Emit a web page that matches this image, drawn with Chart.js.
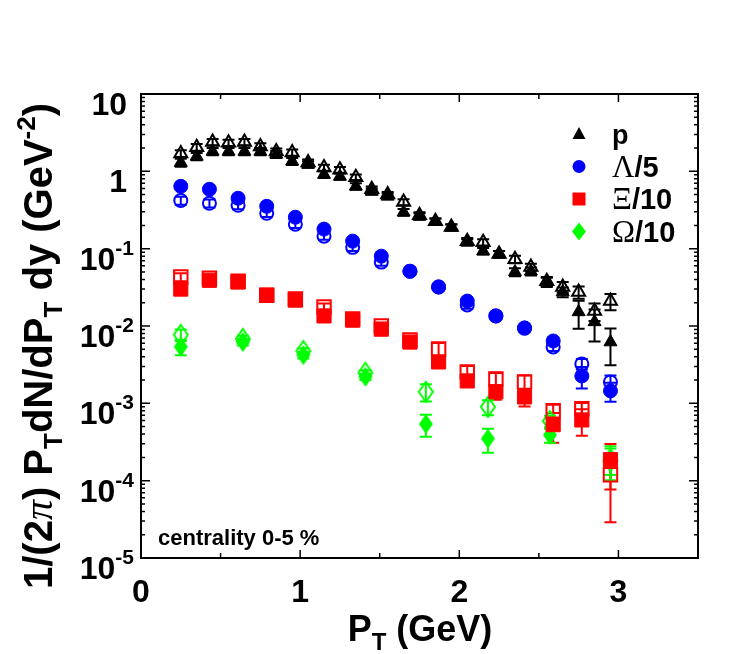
<!DOCTYPE html>
<html>
<head>
<meta charset="utf-8">
<script src="https://cdn.jsdelivr.net/npm/chart.js@4.4.1/dist/chart.umd.min.js"></script>
<style>
  body { margin: 0; background: #fff; }
  canvas { display: block; }
</style>
</head>
<body>
<canvas id="spectraChart" width="747" height="654"></canvas>
<script>
// protons (closed and open triangles)
var pX = [0.25, 0.35, 0.45, 0.55, 0.65, 0.75, 0.85, 0.95, 1.05, 1.15, 1.25, 1.35, 1.45, 1.55,
          1.65, 1.75, 1.85, 1.95, 2.05, 2.15, 2.25, 2.35, 2.45, 2.55, 2.65, 2.75, 2.85, 2.95];
var pFilled = [1.3, 1.56, 1.81, 1.81, 1.81, 1.81, 1.66, 1.35, 1.23, 0.91, 0.86, 0.64, 0.55, 0.475,
               0.296, 0.262, 0.226, 0.189, 0.121, 0.093, 0.085, 0.050, 0.051, 0.037, 0.0275, 0.0152, 0.0113, 0.0062];
var pOpen = [1.7, 2.05, 2.4, 2.35, 2.4, 2.1, 1.8, 1.75, 1.3, 1.12, 1.05, 0.84, 0.585, 0.5,
             0.40, 0.27, 0.226, 0.19, 0.125, 0.121, 0.085, 0.073, 0.058, 0.038, 0.032, 0.0275, 0.0156, 0.021];
var pErrFilled = [0.15, 0.17, 0.19, 0.19, 0.19, 0.19, 0.17, 0.14, 0.12, 0.09, 0.08, 0.06, 0.05, 0.04,
                  0.03, 0.025, 0.02, 0.017, 0.011, 0.009, 0.008, 0.006, 0.006, 0.005, 0.004, 0.006, 0.005, 0.0031];
var pErrOpen = [0.17, 0.2, 0.22, 0.22, 0.22, 0.2, 0.17, 0.16, 0.12, 0.1, 0.09, 0.07, 0.05, 0.04,
                0.035, 0.025, 0.02, 0.017, 0.012, 0.011, 0.008, 0.008, 0.006, 0.005, 0.005, 0.005, 0.004, 0.005];

// lambda / 5 (circles)
var lamX = [0.25, 0.43, 0.61, 0.79, 0.97, 1.15, 1.33, 1.51, 1.69, 1.87, 2.05, 2.23, 2.41, 2.59, 2.77, 2.95];
var lamFilled = [0.64, 0.586, 0.449, 0.353, 0.255, 0.179, 0.125, 0.080, 0.051, 0.032, 0.021, 0.0135, 0.0094, 0.0064, 0.00226, 0.00145];
var lamOpen = [0.42, 0.386, 0.364, 0.287, 0.207, 0.145, 0.104, 0.067, 0.051, 0.032, 0.0187, 0.0135, 0.0094, 0.00536, 0.00323, 0.00189];
var lamErrFilled = [0.03, 0.03, 0.02, 0.02, 0.012, 0.009, 0.006, 0.004, 0.003, 0.002, 0.0012, 0.0008, 0.0006, 0.0007, 0.0007, 0.0004];
var lamErrOpen = [0.05, 0.045, 0.04, 0.03, 0.022, 0.015, 0.011, 0.007, 0.005, 0.003, 0.002, 0.0013, 0.001, 0.0006, 0.0005, 0.0004];

// xi / 10 (squares)
var xiX = [0.25, 0.43, 0.61, 0.79, 0.97, 1.15, 1.33, 1.51, 1.69, 1.87, 2.05, 2.23, 2.41, 2.59, 2.77, 2.95];
var xiFilled = [0.030, 0.039, 0.037, 0.025, 0.0216, 0.0135, 0.0119, 0.0091, 0.0062, 0.00343, 0.00195, 0.00141, 0.00121, 0.00053, 0.00061, 0.000187];
var xiOpen = [0.043, 0.0416, 0.038, 0.025, 0.0223, 0.0176, 0.0123, 0.010, 0.0066, 0.00505, 0.00255, 0.00207, 0.00189, 0.0008, 0.00085, 0.000119];
var xiErrFilled = [0.003, 0.003, 0.003, 0.002, 0.0015, 0.001, 0.0008, 0.0006, 0.0005, 0.0004, 0.0003, 0.0003, 0.0003, 0.00022, 0.00023, 0.00011];
var xiErrOpen = [0.005, 0.004, 0.004, 0.002, 0.002, 0.002, 0.0012, 0.001, 0.0008, 0.001, 0.0005, 0.0004, 0.0004, 0.00016, 0.00016, 0.00009];

// omega / 10 (diamonds)
var omX = [0.25, 0.64, 1.02, 1.41, 1.79, 2.18, 2.57, 2.95];
var omFilled = [0.0054, 0.0062, 0.0042, 0.0022, 0.00054, 0.00035, 0.00039, 0.000198];
var omOpen = [0.0077, 0.0068, 0.00475, 0.00248, 0.00141, 0.0009, 0.00059, 0.000181];
var omErrFilled = [0.0012, 0.0006, 0.0004, 0.0002, 0.00017, 0.00012, 0.00008, 0.00008];
var omErrOpen = [0.0013, 0.0007, 0.0004, 0.0002, 0.00035, 0.0002, 0.0001, 0.00008];

// axes
var xTicks = [0, 0.5, 1, 1.5, 2, 2.5, 3, 3.5];
var xLabels = [0, 1, 2, 3];
var yDecades = [-5, -4, -3, -2, -1, 0, 1];

var SANS = '"Liberation Sans", Arial, sans-serif';
var SERIF = '"Liberation Serif", "DejaVu Serif", serif';

function toPoints(xs, ys) {
    return xs.map(function (x, i) { return { x: x, y: ys[i] }; });
}

// diamonds are taller than wide, so draw them on a small canvas
function diamondImage(color, filled) {
    var c = document.createElement('canvas');
    c.width = 18; c.height = 24;
    var g = c.getContext('2d');
    g.beginPath();
    g.moveTo(9, 2); g.lineTo(16, 12); g.lineTo(9, 22); g.lineTo(2, 12); g.closePath();
    if (filled) { g.fillStyle = color; g.fill(); }
    else { g.strokeStyle = color; g.lineWidth = 2; g.stroke(); }
    return c;
}

function series(label, xs, ys, errs, color, style, filled, radius) {
    return {
        label: label,
        data: toPoints(xs, ys),
        errors: errs,
        errColor: color,
        pointStyle: style,
        pointRadius: radius,
        pointBackgroundColor: filled ? color : 'rgba(0,0,0,0)',
        pointBorderColor: color,
        pointBorderWidth: filled ? 1 : 2,
        showLine: false
    };
}

// draws a run of text pieces with their own fonts and vertical offsets
function richWidth(ctx, parts) {
    var w = 0;
    parts.forEach(function (p) { ctx.font = p.f; w += ctx.measureText(p.t).width; });
    return w;
}
function drawRich(ctx, parts, x, y) {
    parts.forEach(function (p) {
        ctx.font = p.f;
        ctx.fillText(p.t, x, y + (p.dy || 0));
        x += ctx.measureText(p.t).width;
    });
}

var TICK = 'bold 32px ' + SANS;
var EXP = 'bold 21px ' + SANS;

var errorBars = {
    id: 'errorBars',
    beforeDatasetsDraw: function (chart) {
        var ctx = chart.ctx, ys = chart.scales.y, a = chart.chartArea;
        ctx.save();
        ctx.beginPath();
        ctx.rect(a.left, a.top, a.right - a.left, a.bottom - a.top);
        ctx.clip();
        chart.data.datasets.forEach(function (ds, i) {
            var meta = chart.getDatasetMeta(i);
            ctx.strokeStyle = ds.errColor;
            ctx.lineWidth = 2;
            meta.data.forEach(function (pt, j) {
                var v = ds.data[j].y, e = ds.errors[j];
                var top = ys.getPixelForValue(v + e);
                var bot = ys.getPixelForValue(Math.max(v - e, 1e-7));
                ctx.beginPath();
                ctx.moveTo(pt.x, top); ctx.lineTo(pt.x, bot);
                ctx.moveTo(pt.x - 6, top); ctx.lineTo(pt.x + 6, top);
                ctx.moveTo(pt.x - 6, bot); ctx.lineTo(pt.x + 6, bot);
                ctx.stroke();
            });
        });
        ctx.restore();
    }
};

var frameAndText = {
    id: 'frameAndText',
    afterDraw: function (chart) {
        var ctx = chart.ctx, a = chart.chartArea;
        var xs = chart.scales.x, ys = chart.scales.y;
        ctx.save();
        ctx.strokeStyle = '#000';
        ctx.fillStyle = '#000';
        ctx.lineWidth = 2;
        ctx.strokeRect(a.left, a.top, a.right - a.left, a.bottom - a.top);

        // inward ticks
        ctx.lineWidth = 1.5;
        ctx.beginPath();
        xTicks.forEach(function (v) {
            var px = xs.getPixelForValue(v);
            var len = (v % 1 === 0) ? 8 : 5;
            ctx.moveTo(px, a.bottom); ctx.lineTo(px, a.bottom - len);
            ctx.moveTo(px, a.top); ctx.lineTo(px, a.top + len);
        });
        yDecades.forEach(function (k) {
            var py = ys.getPixelForValue(Math.pow(10, k));
            ctx.moveTo(a.left, py); ctx.lineTo(a.left + 9, py);
            ctx.moveTo(a.right, py); ctx.lineTo(a.right - 9, py);
            if (k < 1) {
                for (var m = 2; m <= 9; m++) {
                    var pm = ys.getPixelForValue(m * Math.pow(10, k));
                    ctx.moveTo(a.left, pm); ctx.lineTo(a.left + 4, pm);
                    ctx.moveTo(a.right, pm); ctx.lineTo(a.right - 4, pm);
                }
            }
        });
        ctx.stroke();

        // x tick labels
        ctx.textAlign = 'center';
        ctx.textBaseline = 'alphabetic';
        ctx.font = TICK;
        xLabels.forEach(function (v) {
            ctx.fillText(String(v), xs.getPixelForValue(v), 602);
        });

        // y tick labels
        ctx.textAlign = 'left';
        yDecades.forEach(function (k) {
            var py = ys.getPixelForValue(Math.pow(10, k)) + 21;
            var parts;
            if (k === 0) parts = [{ t: '1', f: TICK }];
            else if (k === 1) parts = [{ t: '10', f: TICK }];
            else parts = [{ t: '10', f: TICK }, { t: String(k), f: EXP, dy: -15 }];
            var w = richWidth(ctx, parts);
            var right = (k === 0 || k === 1) ? 127 : 134;
            drawRich(ctx, parts, right - w, py);
        });

        // x title
        var XT = 'bold 36px ' + SANS, XS = 'bold 24px ' + SANS;
        var xt = [{ t: 'P', f: XT }, { t: 'T', f: XS, dy: 9 }, { t: ' (GeV)', f: XT }];
        drawRich(ctx, xt, 420 - richWidth(ctx, xt) / 2, 641);

        // y title, rotated
        var YT = 'bold 40px ' + SANS, YS = 'bold 26px ' + SANS;
        var yt = [
            { t: '1/(2', f: YT },
            { t: 'π', f: 'italic 40px ' + SERIF },
            { t: ') P', f: YT },
            { t: 'T', f: YS, dy: 10 },
            { t: 'dN/dP', f: YT },
            { t: 'T', f: YS, dy: 10 },
            { t: ' dy (GeV', f: YT },
            { t: '-2', f: YS, dy: -17 },
            { t: ')', f: YT }
        ];
        ctx.save();
        ctx.translate(52, 346);
        ctx.rotate(-Math.PI / 2);
        drawRich(ctx, yt, -richWidth(ctx, yt) / 2, 0);
        ctx.restore();

        // annotation
        ctx.font = 'bold 22px ' + SANS;
        ctx.fillText('centrality 0-5 %', 158, 545);

        // legend
        var rows = [
            { c: '#000000', s: 'tri', parts: [{ t: 'p', f: 'bold 27px ' + SANS }] },
            { c: '#0000ff', s: 'circ', parts: [{ t: 'Λ', f: '31px ' + SERIF }, { t: '/5', f: 'bold 29px ' + SANS }] },
            { c: '#ff0000', s: 'sq', parts: [{ t: 'Ξ', f: '31px ' + SERIF }, { t: '/10', f: 'bold 29px ' + SANS }] },
            { c: '#00ff00', s: 'dia', parts: [{ t: 'Ω', f: '31px ' + SERIF }, { t: '/10', f: 'bold 29px ' + SANS }] }
        ];
        rows.forEach(function (r, i) {
            var cy = 134 + i * 32.5, cx = 579;
            ctx.fillStyle = r.c;
            ctx.beginPath();
            if (r.s === 'tri') {
                ctx.moveTo(cx, cy - 7); ctx.lineTo(cx + 6.5, cy + 5); ctx.lineTo(cx - 6.5, cy + 5); ctx.closePath();
            } else if (r.s === 'circ') {
                ctx.arc(cx, cy, 6.5, 0, Math.PI * 2);
            } else if (r.s === 'sq') {
                ctx.rect(cx - 6.5, cy - 6.5, 13, 13);
            } else {
                ctx.moveTo(cx, cy - 9); ctx.lineTo(cx + 7, cy); ctx.lineTo(cx, cy + 9); ctx.lineTo(cx - 7, cy); ctx.closePath();
            }
            ctx.fill();
            ctx.fillStyle = '#000';
            drawRich(ctx, r.parts, 612, cy + 10);
        });
        ctx.restore();
    }
};

var ctxSpectra = document.getElementById('spectraChart').getContext('2d');
var spectraChart = new Chart(ctxSpectra, {
    type: 'scatter',
    data: {
        datasets: [
            series('p', pX, pFilled, pErrFilled, '#000000', 'triangle', true, 7.5),
            series('p open', pX, pOpen, pErrOpen, '#000000', 'triangle', false, 7.5),
            series('Λ/5', lamX, lamFilled, lamErrFilled, '#0000ff', 'circle', true, 7),
            series('Λ/5 open', lamX, lamOpen, lamErrOpen, '#0000ff', 'circle', false, 6.5),
            series('Ξ/10', xiX, xiFilled, xiErrFilled, '#ff0000', 'rect', true, 10),
            series('Ξ/10 open', xiX, xiOpen, xiErrOpen, '#ff0000', 'rect', false, 9.5),
            series('Ω/10', omX, omFilled, omErrFilled, '#00ff00', diamondImage('#00ff00', true), true, 8),
            series('Ω/10 open', omX, omOpen, omErrOpen, '#00ff00', diamondImage('#00ff00', false), false, 8)
        ]
    },
    options: {
        responsive: false,
        animation: false,
        devicePixelRatio: 1,
        layout: { padding: { left: 141, right: 49, top: 94, bottom: 96 } },
        scales: {
            x: { type: 'linear', min: 0, max: 3.5, display: false },
            y: { type: 'logarithmic', min: 1e-5, max: 10, display: false }
        },
        plugins: {
            legend: { display: false },
            tooltip: { enabled: false }
        }
    },
    plugins: [errorBars, frameAndText]
});
</script>
</body>
</html>
